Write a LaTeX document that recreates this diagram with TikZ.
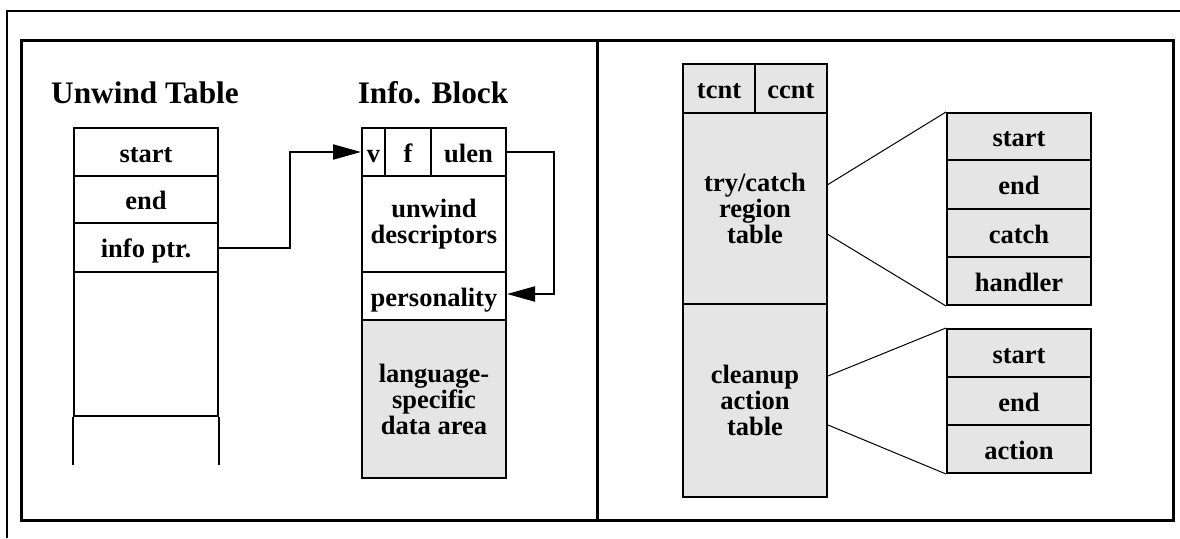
\documentclass[tikz,border=0pt]{standalone}
\usepackage{fontspec}
\setmainfont{Liberation Serif}
\usetikzlibrary{arrows.meta}
\begin{document}
\begin{tikzpicture}[x=1pt,y=-1pt,
  cell/.style={draw,line width=2pt,inner sep=0pt,anchor=north west,align=center,
    font=\fontsize{26.5}{26}\selectfont\bfseries},
  one/.style={text height=20pt,text depth=0pt},
  gcell/.style={cell,fill=black!10},
  ttl/.style={anchor=base,inner sep=0pt,font=\fontsize{31.3}{30}\selectfont\bfseries},
  arr/.style={line width=2pt,-{Triangle[length=28pt,width=15pt]}},
  thin/.style={line width=1pt}]
\useasboundingbox (0,0) rectangle (1180,538);
% frames
\draw[line width=2.2pt] (7,538) -- (7,11) -- (1180,11);
\draw[line width=3pt] (21,40) rectangle (1173,520);
\draw[line width=3pt] (597,40) -- (597,520);
% unwind table
\node[ttl] (tu) at (145,103) {Unwind Table};
\node[cell,one,minimum width=144,minimum height=48] (us) at (73,127) {start};
\node[cell,one,minimum width=144,minimum height=47] (ue) at (73,175) {end};
\node[cell,one,minimum width=144,minimum height=49] (up) at (73,222) {info ptr.};
\node[cell,minimum width=144,minimum height=144] (ux) at (73,271) {};
\draw[line width=2pt] (ux.south west) -- ++(0,48);
\draw[line width=2pt] (ux.south east) -- ++(0,48);
% info block
\node[ttl] (ti) at (433,103) {Info. Block};
\node[cell,one,minimum width=23,minimum height=48] (iv) at (361,127) {v};
\node[cell,one,minimum width=46,minimum height=48] (if) at (384,127) {f};
\node[cell,one,minimum width=75,minimum height=48] (iu) at (430,127) {ulen};
\node[cell,minimum width=144,minimum height=96] (id) at (361,175) {unwind\\descriptors};
\node[cell,one,minimum width=144,minimum height=48] (ip) at (361,271) {personality};
\node[gcell,minimum width=144,minimum height=158] (il) at (361,319) {language-\\specific\\data area};
\draw[arr] (up.east) -- ++(71,0) |- (iv.west);
\draw[arr] (iu.east) -- ++(47,0) |- ([yshift=2pt]ip.east);
% right panel
\node[gcell,one,minimum width=72,minimum height=49] (tc) at (682,63) {tcnt};
\node[gcell,one,minimum width=72,minimum height=49] (cc) at (754,63) {ccnt};
\node[gcell,minimum width=144,minimum height=191] (tr) at (682,112) {try/catch\\region\\table};
\node[gcell,minimum width=144,minimum height=193] (cl) at (682,303) {cleanup\\action\\table};
\node[gcell,one,minimum width=144,minimum height=47] (rs) at (946,112) {start};
\node[gcell,one,minimum width=144,minimum height=49] (re) at (946,159) {end};
\node[gcell,one,minimum width=144,minimum height=48] (rc) at (946,208) {catch};
\node[gcell,one,minimum width=144,minimum height=48] (rh) at (946,256) {handler};
\node[gcell,one,minimum width=144,minimum height=48] (cs) at (946,328) {start};
\node[gcell,one,minimum width=144,minimum height=48] (ce) at (946,376) {end};
\node[gcell,one,minimum width=144,minimum height=48] (ca) at (946,424) {action};
\draw[thin] ([yshift=24pt]tr.east) -- (rs.north west);
\draw[thin] ([yshift=-26pt]tr.east) -- (rh.south west);
\draw[thin] ([yshift=24.5pt]cl.east) -- (cs.north west);
\draw[thin] ([yshift=-24.5pt]cl.east) -- (ca.south west);
\end{tikzpicture}
\end{document}
